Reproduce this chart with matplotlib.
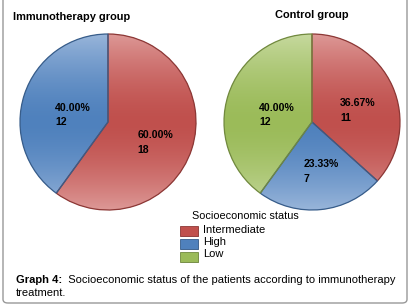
import numpy as np
import matplotlib
matplotlib.use("Agg")
import matplotlib.pyplot as plt
from matplotlib.patches import FancyBboxPatch, Rectangle, Wedge
from matplotlib.colors import to_rgb

plt.rcParams['font.family'] = ['Liberation Sans', 'DejaVu Sans']

categories = ["Intermediate", "High", "Low"]
immuno_counts = [18, 12, 0]
control_counts = [11, 7, 12]
immuno_pct = ["60.00%", "40.00%", ""]
control_pct = ["36.67%", "23.33%", "40.00%"]
group_titles = ["Immunotherapy group", "Control group"]
legend_title = "Socioeconomic status"
caption_bold = "Graph 4:"
caption_text = "  Socioeconomic status of the patients according to immunotherapy\ntreatment."

base_colors = ["#C0504D", "#4F81BD", "#9BBB59"]
light_colors = ["#DD9896", "#98B5DA", "#C6D99E"]
edge_colors = ["#8C3836", "#385D8A", "#71893F"]

W, H = 409, 305
fig = plt.figure(figsize=(W / 100, H / 100), dpi=100)
fig.patch.set_facecolor("white")


def px_axes(cx, cy, half):
    return fig.add_axes([(cx - half) / W, 1 - (cy + half) / H, 2 * half / W, 2 * half / H])


def draw_pie(ax, counts, pcts, label_pos):
    vals = list(counts)
    idx = [i for i, v in enumerate(vals) if v > 0]
    r = 88 / 90
    wedges, _ = ax.pie([vals[i] for i in idx], startangle=90, counterclock=False,
                       radius=r, colors=[base_colors[i] for i in idx],
                       wedgeprops=dict(linewidth=0.9))
    ys = np.linspace(1, -1, 200)
    for w, i in zip(wedges, idx):
        b = np.array(to_rgb(base_colors[i]))
        l = np.array(to_rgb(light_colors[i]))
        t = np.clip(np.abs(ys) / r, 0, 1) ** 1.6
        grad = (b[None, :] * (1 - t[:, None]) + l[None, :] * t[:, None])[:, None, :]
        im = ax.imshow(grad, extent=[-1, 1, -1, 1], aspect="auto", zorder=1.5,
                       interpolation="bilinear")
        im.set_clip_path(w)
        w.set_zorder(1)
        ew = Wedge(w.center, w.r, w.theta1, w.theta2, facecolor="none",
                   edgecolor=edge_colors[i], linewidth=0.9, zorder=2)
        ax.add_patch(ew)
    for i in idx:
        x, y = label_pos[i]
        ax.text(x, y, pcts[i], fontsize=7.6, fontweight="bold", ha="left", va="center", zorder=3)
        ax.text(x, y - 0.165, str(counts[i]), fontsize=7.6, fontweight="bold", ha="left", va="center", zorder=3)
    ax.set_xlim(-1, 1)
    ax.set_ylim(-1, 1)
    ax.set_aspect("equal")
    ax.axis("off")


ax1 = px_axes(108, 122, 90)
draw_pie(ax1, immuno_counts, immuno_pct,
         {0: (0.33, -0.15), 1: (-0.59, 0.16)})
ax2 = px_axes(312, 122, 90)
draw_pie(ax2, control_counts, control_pct,
         {0: (0.31, 0.21), 1: (-0.09, -0.47), 2: (-0.59, 0.16)})

fig.text(13 / W, 1 - 17 / H, group_titles[0], fontsize=7.9, fontweight="bold",
         ha="left", va="center")
fig.text(312 / W, 1 - 15 / H, group_titles[1], fontsize=7.9, fontweight="bold",
         ha="center", va="center")

fig.text(245 / W, 1 - 216 / H, legend_title, fontsize=7.8, ha="center", va="center")
box_tops = [226, 239, 252]
text_y = [230, 242, 254]
for i, cat in enumerate(categories):
    fig.patches.append(Rectangle((181 / W, 1 - (box_tops[i] + 11) / H), 18 / W, 10 / H,
                                 transform=fig.transFigure, facecolor="#777777",
                                 edgecolor="none", alpha=0.5))
    fig.patches.append(Rectangle((180 / W, 1 - (box_tops[i] + 10) / H), 18 / W, 10 / H,
                                 transform=fig.transFigure, facecolor=base_colors[i],
                                 edgecolor=edge_colors[i], linewidth=0.6))
    fig.text(203 / W, 1 - text_y[i] / H, cat, fontsize=8, ha="left", va="center")

t1 = fig.text(16 / W, 1 - 280 / H, caption_bold, fontsize=8.05, fontweight="bold",
              ha="left", va="center")
fig.canvas.draw()
bb = t1.get_window_extent()
x_after = bb.x1 / W
fig.text(x_after, 1 - 280 / H, caption_text.split("\n")[0], fontsize=8.05,
         ha="left", va="center")
fig.text(16 / W, 1 - 293 / H, caption_text.split("\n")[1], fontsize=8.05,
         ha="left", va="center")

fig.patches.append(FancyBboxPatch((3 / W, 1 - 303 / H), 404 / W, 320 / H,
                                  boxstyle="round,pad=0,rounding_size=0.012",
                                  transform=fig.transFigure, facecolor="none",
                                  edgecolor="#999999", linewidth=1.0))

fig.savefig("out.png", dpi=100)
